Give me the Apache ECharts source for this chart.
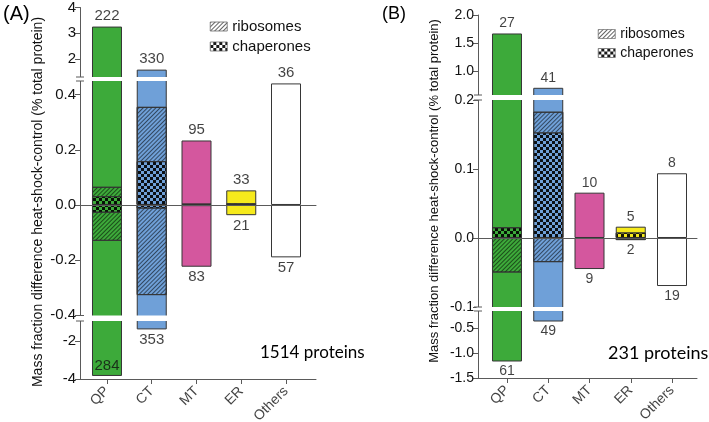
<!DOCTYPE html>
<html><head><meta charset="utf-8">
<script src="https://cdn.jsdelivr.net/npm/echarts@6/dist/echarts.min.js"></script>
<style>html,body{margin:0;padding:0;background:#fff}#c{width:709px;height:422px}</style>
</head><body><div id="c"></div>
<script>
// ---------- data ----------
const categories = ['QP', 'CT', 'MT', 'ER', 'Others'];

// Panel A (1514 proteins): bar ends and inner segment edges
const A_totalPos = [3.26, 1.59, 0.234, 0.053, 0.441];
const A_riboPos  = [0.066, 0.356, 0.005, 0, 0];
const A_chapPos  = [0.032, 0.159, 0, 0.006, 0];
const A_totalNeg = [-3.84, -1.39, -0.224, -0.037, -0.19];
const A_riboNeg  = [-0.13, -0.327, -0.004, 0, 0];
const A_chapNeg  = [-0.028, -0.013, 0, 0, 0];
const A_countPos = [222, 330, 95, 33, 36];
const A_countNeg = [284, 353, 83, 21, 57];
const A_ticksTop = [2, 3, 4];
const A_ticksMid = [-0.4, -0.2, 0, 0.2, 0.4];
const A_ticksBot = [-4, -2];

// Panel B (231 proteins)
const B_totalPos = [1.67, 0.70, 0.0657, 0.0164, 0.0938];
const B_riboPos  = [0, 0.183, 0, 0, 0];
const B_chapPos  = [0.0155, 0.153, 0, 0.008, 0];
const B_totalNeg = [-1.17, -0.37, -0.045, -0.003, -0.0696];
const B_riboNeg  = [-0.05, -0.035, 0, -0.003, 0];
const B_chapNeg  = [0, 0, 0, 0, 0];
const B_countPos = [27, 41, 10, 5, 8];
const B_countNeg = [61, 49, 9, 2, 19];
const B_ticksTop = [1.0, 1.5, 2.0];
const B_ticksMid = [-0.1, 0, 0.1, 0.2];
const B_ticksBot = [-1.5, -1.0, -0.5];

const Y_NAME = 'Mass fraction difference heat-shock-control (% total protein)';

// ---------- style ----------
const FONT = "'Liberation Sans', Arial, sans-serif";
const TXT = '#111';
const BAR_COLORS = ['#3DAA3A', '#6FA0D8', '#D4579E', '#F6EA1C', '#FFFFFF'];
const BORDER = '#363636';
const AXIS = '#5a5a5a';
const hatch = {symbol: 'rect', symbolSize: 1, color: 'rgba(0,0,0,0.55)', dashArrayX: [1, 0], dashArrayY: [1, 2], rotation: -Math.PI / 4};
const checker = {symbol: 'rect', symbolSize: 1, color: 'rgba(0,0,0,0.9)', dashArrayX: [[3, 3], [0, 3, 3, 0]], dashArrayY: [3, 0], rotation: 0};
const hatchLegend = Object.assign({}, hatch, {color: 'rgba(60,60,60,0.8)'});
const checkerLegend = Object.assign({}, checker, {color: 'rgba(0,0,0,0.9)'});

const panels = [
  {D: {totalPos: A_totalPos, riboPos: A_riboPos, chapPos: A_chapPos, totalNeg: A_totalNeg, riboNeg: A_riboNeg, chapNeg: A_chapNeg, countPos: A_countPos, countNeg: A_countNeg},
   left: 80, width: 236, xMin: -0.603, xMax: 4.67, fs: 15, catFs: 14,
   segs: [{top: 5.5, height: 73.5, min: 1.226, max: 4, ticks: A_ticksTop, dec: 0},
          {top: 79, height: 239, min: -0.41, max: 0.457, ticks: A_ticksMid, dec: 1},
          {top: 318, height: 61, min: -4, max: -0.789, ticks: A_ticksBot, dec: 0}],
   bands: [[77, 81], [315.5, 321]],
   letter: {text: '(A)', x: 3, y: 4, fs: 20},
   count: {text: '1514 proteins', x: 260, y: 353, fs: 17},
   yname: {x: 38, y: 202, fs: 14},
   legend: {left: 210, top: 19, fs: 15}},
  {D: {totalPos: B_totalPos, riboPos: B_riboPos, chapPos: B_chapPos, totalNeg: B_totalNeg, riboNeg: B_riboNeg, chapNeg: B_chapNeg, countPos: B_countPos, countNeg: B_countNeg},
   left: 478, width: 219, xMin: -0.703, xMax: 4.606, fs: 14, catFs: 14,
   segs: [{top: 15, height: 82.5, min: 0.527, max: 2.0, ticks: B_ticksTop, dec: 1},
          {top: 97.5, height: 211.5, min: -0.1029, max: 0.2036, ticks: B_ticksMid, dec: 1},
          {top: 309, height: 69, min: -1.5, max: -0.12, ticks: B_ticksBot, dec: 1}],
   bands: [[95, 100], [307, 311]],
   letter: {text: '(B)', x: 382, y: 5, fs: 18},
   count: {text: '231 proteins', x: 608, y: 353, fs: 18},
   yname: {x: 434, y: 191, fs: 13},
   legend: {left: 598, top: 27, fs: 14}}
];

const catIdx = categories.map((c, i) => i);
const option = {animation: false, grid: [], xAxis: [], yAxis: [], series: [], graphic: [], legend: []};
let gi = 0;

panels.forEach(P => {
  const D = P.D;
  P.segs.forEach((s, k) => {
    const isMid = k === 1, isBot = k === 2;
    option.grid.push({left: P.left, width: P.width, top: s.top, height: s.height});
    option.xAxis.push({
      gridIndex: gi, type: 'value', min: P.xMin, max: P.xMax, show: isMid || isBot, z: isMid ? 6 : 2,
      axisLine: {show: true, onZero: isMid, lineStyle: {color: AXIS, width: 1}},
      axisTick: {show: isBot, customValues: catIdx, length: 5, lineStyle: {color: AXIS}},
      axisLabel: {show: false}, splitLine: {show: false}
    });
    option.yAxis.push({
      gridIndex: gi, type: 'value', min: s.min, max: s.max,
      axisLine: {show: true, onZero: false, lineStyle: {color: AXIS, width: 1}},
      axisTick: {show: true, customValues: s.ticks, length: 5, lineStyle: {color: AXIS}},
      axisLabel: {customValues: s.ticks, formatter: v => v.toFixed(s.dec), fontSize: P.fs, color: TXT, margin: 4, fontFamily: FONT},
      splitLine: {show: false}
    });
    const items = (arr, decal) => arr.map((v, i) => {
      if (!v) return null;
      const st = {color: BAR_COLORS[i]};
      if (decal) st.decal = decal;
      return {value: [i, v], itemStyle: st};
    }).filter(Boolean);
    [['total', D.totalPos, null], ['ribosomes', D.riboPos, hatch], ['chaperones', D.chapPos, checker],
     ['total', D.totalNeg, null], ['ribosomes', D.riboNeg, hatch], ['chaperones', D.chapNeg, checker]]
      .forEach(([name, arr, dec]) => {
        option.series.push({type: 'bar', name, xAxisIndex: gi, yAxisIndex: gi, barWidth: 30, barGap: '-100%',
          silent: true, itemStyle: {borderColor: BORDER, borderWidth: 1}, data: items(arr, dec)});
      });
    const inRange = v => v >= s.min && v <= s.max;
    const lab = [];
    D.totalPos.forEach((v, i) => { if (inRange(v)) lab.push({value: [i, v], label: {position: 'top', formatter: String(D.countPos[i])}}); });
    D.totalNeg.forEach((v, i) => {
      if (inRange(v)) {
        const nearEdge = (v - s.min) / (s.max - s.min) * s.height < 16;
        lab.push({value: [i, v], label: {position: nearEdge ? 'top' : 'bottom', formatter: String(D.countNeg[i])}});
      }
    });
    option.series.push({type: 'scatter', name: 'labels', xAxisIndex: gi, yAxisIndex: gi, symbolSize: 0, silent: true, z: 10,
      label: {show: true, fontSize: P.fs, color: TXT, distance: 3, fontFamily: FONT}, data: lab});
    if (isBot) {
      // rotated category names under the axis ticks
      option.series.push({type: 'scatter', name: 'categories', xAxisIndex: gi, yAxisIndex: gi, symbolSize: 0, silent: true, clip: false, z: 10,
        label: {show: true, position: 'bottom', distance: 10, rotate: 45, align: 'right', verticalAlign: 'middle',
                fontSize: P.catFs, color: TXT, fontFamily: FONT},
        data: categories.map((c, i) => ({value: [i, s.min], label: {formatter: c}}))});
    }
    gi++;
  });
  // break bands and marks
  P.bands.forEach(b => {
    option.graphic.push({type: 'rect', z: 100, silent: true, shape: {x: P.left - 1.5, y: b[0], width: P.width + 3, height: b[1] - b[0]}, style: {fill: '#fff'}});
    b.forEach(yy => option.graphic.push({type: 'line', z: 101, silent: true, shape: {x1: P.left - 4, y1: yy, x2: P.left + 4, y2: yy}, style: {stroke: AXIS, lineWidth: 1}}));
  });
  option.graphic.push({type: 'text', z: 101, x: P.yname.x, y: P.yname.y, rotation: Math.PI / 2,
    style: {text: Y_NAME, fontSize: P.yname.fs, fontFamily: FONT, fill: TXT, align: 'center', verticalAlign: 'middle', textAlign: 'center', textVerticalAlign: 'middle'}});
  option.graphic.push({type: 'text', z: 101, x: P.letter.x, y: P.letter.y,
    style: {text: P.letter.text, fontSize: P.letter.fs, fontFamily: FONT, fill: '#000'}});
  option.graphic.push({type: 'text', z: 101, x: P.count.x, y: P.count.y,
    style: {text: P.count.text, fontSize: P.count.fs, fontFamily: "Lato, 'Open Sans', sans-serif", fill: '#000', verticalAlign: 'middle', textVerticalAlign: 'middle'}});
  option.legend.push({left: P.legend.left, top: P.legend.top, padding: 0, orient: 'vertical', itemWidth: 17, itemHeight: 9, itemGap: 5,
    selectedMode: false, textStyle: {fontSize: P.legend.fs, color: TXT, fontFamily: FONT},
    data: [{name: 'ribosomes', icon: 'rect', itemStyle: {color: '#fff', borderColor: '#777', borderWidth: 0.5, decal: hatchLegend}},
           {name: 'chaperones', icon: 'rect', itemStyle: {color: '#fff', borderColor: '#777', borderWidth: 0.5, decal: checkerLegend}}]});
});

const chart = echarts.init(document.getElementById('c'));
chart.setOption(option);
</script></body></html>
